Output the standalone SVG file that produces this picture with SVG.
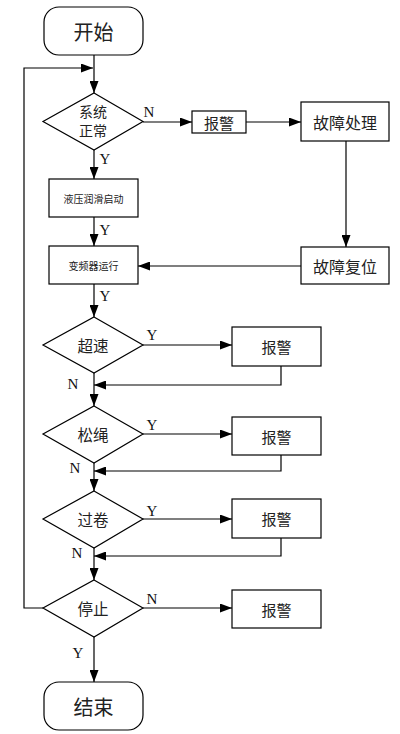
<svg xmlns="http://www.w3.org/2000/svg" width="400" height="734" viewBox="0 0 400 734">
<defs>
<marker id="ah" markerUnits="userSpaceOnUse" markerWidth="13" markerHeight="9" refX="12" refY="4.5" orient="auto">
<path d="M0,0 L12,4.5 L0,9 Z" fill="#000"/>
</marker>
<style>
.s{fill:#fff;stroke:#000;stroke-width:1.2}
.c{fill:none;stroke:#000;stroke-width:1.2;marker-end:url(#ah)}
.t{font-family:"Noto Sans CJK SC","Liberation Serif",serif;fill:#222;text-anchor:middle;dominant-baseline:central}
.yn{font-family:"Liberation Serif",serif;font-size:15px;fill:#111;text-anchor:middle;dominant-baseline:central}
</style>
</defs>
<rect width="400" height="734" fill="#fff"/>
<g id="connectors">
<path class="c" d="M94,55 V93"/>
<path class="c" d="M43,608 H24 V68 H93"/>
<path class="c" d="M143,122 H192"/>
<path class="c" d="M246,122 H301"/>
<path class="c" d="M346,141 V247"/>
<path class="c" d="M301,266 H138"/>
<path class="c" d="M94,150 V179"/>
<path class="c" d="M94,217 V246"/>
<path class="c" d="M94,284 V317"/>
<path class="c" d="M143,345 H232"/>
<path class="c" d="M281,366 V385 H94"/>
<path class="c" d="M94,373 V406"/>
<path class="c" d="M143,434 H232"/>
<path class="c" d="M281,455 V471 H94"/>
<path class="c" d="M94,463 V491"/>
<path class="c" d="M143,519 H232"/>
<path class="c" d="M281,538 V556 H94"/>
<path class="c" d="M94,548 V580"/>
<path class="c" d="M143,608 H232"/>
<path class="c" d="M94,637 V682"/>
<text class="yn" x="149" y="112">N</text>
<text class="yn" x="105" y="159">Y</text>
<text class="yn" x="105" y="230">Y</text>
<text class="yn" x="105" y="296">Y</text>
<text class="yn" x="152" y="335">Y</text>
<text class="yn" x="73" y="384">N</text>
<text class="yn" x="152" y="425">Y</text>
<text class="yn" x="75" y="468">N</text>
<text class="yn" x="152" y="511">Y</text>
<text class="yn" x="77" y="553">N</text>
<text class="yn" x="152" y="599">N</text>
<text class="yn" x="78" y="653">Y</text>
</g>
<g id="start"><rect class="s" x="44" y="7" width="99" height="48" rx="15"/><text class="t" x="93.5" y="31" font-size="20">开始</text></g>
<g id="d1"><path class="s" d="M94,93 L143,121.5 L94,150 L43,121.5 Z"/><text class="t" x="93" y="111" font-size="14">系统</text><text class="t" x="93" y="130" font-size="14">正常</text></g>
<g id="alarm0"><rect class="s" x="192" y="111" width="54" height="22"/><text class="t" x="219" y="122" font-size="15">报警</text></g>
<g id="fault"><rect class="s" x="301" y="102" width="88" height="39"/><text class="t" x="345" y="121.5" font-size="16">故障处理</text></g>
<g id="reset"><rect class="s" x="301" y="247" width="88" height="37"/><text class="t" x="345" y="265.5" font-size="16">故障复位</text></g>
<g id="lube"><rect class="s" x="49" y="179" width="89" height="38"/><text class="t" x="93.5" y="198" font-size="10">液压润滑启动</text></g>
<g id="vfd"><rect class="s" x="49" y="246" width="89" height="38"/><text class="t" x="93.5" y="265" font-size="10">变频器运行</text></g>
<g id="d2"><path class="s" d="M94,317 L143,345 L94,373 L43,345 Z"/><text class="t" x="93" y="345" font-size="15.5">超速</text></g>
<g id="a2"><rect class="s" x="232" y="327" width="89" height="39"/><text class="t" x="276.5" y="346" font-size="15">报警</text></g>
<g id="d3"><path class="s" d="M94,406 L143,434 L94,463 L43,434 Z"/><text class="t" x="93" y="434" font-size="15.5">松绳</text></g>
<g id="a3"><rect class="s" x="232" y="417" width="89" height="38"/><text class="t" x="276.5" y="436" font-size="15">报警</text></g>
<g id="d4"><path class="s" d="M94,491 L143,519 L94,548 L43,519 Z"/><text class="t" x="93" y="519" font-size="15.5">过卷</text></g>
<g id="a4"><rect class="s" x="232" y="499" width="89" height="39"/><text class="t" x="276.5" y="518.5" font-size="15">报警</text></g>
<g id="d5"><path class="s" d="M94,580 L143,608 L94,637 L43,608 Z"/><text class="t" x="93" y="608" font-size="15.5">停止</text></g>
<g id="a5"><rect class="s" x="232" y="590" width="89" height="38"/><text class="t" x="276.5" y="609" font-size="15">报警</text></g>
<g id="end"><rect class="s" x="44" y="682" width="99" height="48" rx="15"/><text class="t" x="93.5" y="706" font-size="20">结束</text></g>
</svg>
